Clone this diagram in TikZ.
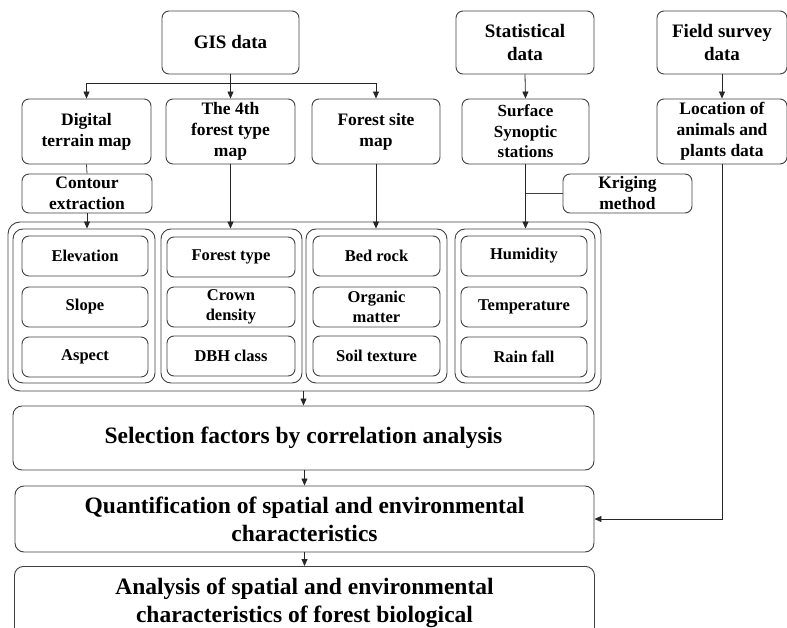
\documentclass[tikz,border=0pt]{standalone}
\usepackage{fontspec}
\setmainfont{Liberation Serif}
\usepackage{tikz}
\usetikzlibrary{arrows.meta}
\tikzset{
    box/.style={draw=black!75, line width=0.9pt, rounded corners=7pt, align=center, inner sep=0pt,
        font=\fontsize{17.5}{21}\selectfont\bfseries},
    topbox/.style={box, font=\fontsize{19}{23}\selectfont\bfseries, minimum height=63pt},
    midbox/.style={box, minimum height=65pt},
    smallbox/.style={box, minimum height=39pt, minimum width=130pt},
    factor/.style={box, font=\fontsize{16.5}{20}\selectfont\bfseries, minimum width=126pt, minimum height=40pt},
    group/.style={draw=black!75, line width=0.9pt, rounded corners=10pt, minimum width=141pt, minimum height=154pt},
    bigbox/.style={box, rounded corners=9pt, font=\fontsize{23.5}{28}\selectfont\bfseries},
    arr/.style={-{Triangle[length=7pt,width=6pt]}, line width=0.8pt, black!85}}

\begin{document}
\begin{tikzpicture}[x=1pt, y=-1pt]
    \useasboundingbox (0,0) rectangle (787,628);
    \clip (0,0) rectangle (787,628);

    % sources
    \node[topbox, minimum width=137pt] (gis) at (230.5,42.5) {GIS data};
    \node[topbox, minimum width=138pt] (stat) at (525,42.5) {Statistical\\data};
    \node[topbox, minimum width=130pt] (field) at (722,42.5) {Field survey\\data};

    \node[midbox, minimum width=129pt] (dtm) at (86.5,131.5) {Digital\\terrain map};
    \node[midbox, minimum width=129pt] (ftm) at (230.5,131.5) {The 4th\\forest type\\map};
    \node[midbox, minimum width=128pt] (fsm) at (376,131.5) {Forest site\\map};
    \node[midbox, minimum width=127pt, font=\fontsize{17}{20.5}\selectfont\bfseries] (sss) at (525.5,131.5) {Surface\\Synoptic\\stations};
    \node[midbox, minimum width=130pt] (loc) at (722,131.5) {Location of\\animals and\\plants data};

    \node[smallbox] (contour) at (87,193.5) {Contour\\extraction};
    \node[smallbox, minimum width=129pt] (kriging) at (627.5,193.5) {Kriging\\method};

    % factor groups
    \node[draw=black!75, line width=0.9pt, rounded corners=12pt, minimum width=593pt, minimum height=169pt] (outer) at (304.5,306.5) {};
    \node[group, minimum width=142pt] (g1) at (84,306) {};
    \node[group] (g2) at (231.5,306) {};
    \node[group] (g3) at (376.5,306) {};
    \node[group, minimum width=140pt] (g4) at (525,306) {};

    \node[factor] (elev) at (85,256) {Elevation};
    \node[factor] (slope) at (85,307) {Slope};
    \node[factor] (aspect) at (85,357) {Aspect};
    \node[factor, minimum width=128pt] (ftype) at (231,257) {Forest type};
    \node[factor, minimum width=128pt] (crown) at (231,307) {Crown\\density};
    \node[factor, minimum width=128pt] (dbh) at (231,356) {DBH class};
    \node[factor, minimum width=127pt] (bedrock) at (376.5,256) {Bed rock};
    \node[factor, minimum width=127pt] (organic) at (376.5,307) {Organic\\matter};
    \node[factor, minimum width=127pt] (soil) at (376.5,356) {Soil texture};
    \node[factor] (humid) at (524,256) {Humidity};
    \node[factor] (temp) at (524,307) {Temperature};
    \node[factor] (rain) at (524,357) {Rain fall};

    % analysis steps
    \node[bigbox, minimum width=581pt, minimum height=64pt] (sel) at (303.5,438) {Selection factors by correlation analysis};
    \node[bigbox, minimum width=579pt, minimum height=66pt] (quant) at (304.5,519) {Quantification of spatial and environmental\\characteristics};
    \node[bigbox, minimum width=580pt, minimum height=72pt, anchor=north] (anal) at (304.5,566) {Analysis of spatial and environmental\\characteristics of forest biological};

    % connectors
    \coordinate (split) at (230.5,83);
    \draw[line width=0.8pt, black!85] (gis.south) -- (split);
    \draw[arr] (split) -| (dtm.north);
    \draw[arr] (split) -- (ftm.north);
    \draw[arr] (split) -| (fsm.north);
    \draw[arr] (stat.south) -- (sss.north);
    \draw[arr] (field.south) -- (loc.north);

    \draw[line width=0.8pt, black!75] (dtm.south) -- (contour.north);
    \draw[arr] (contour.south) -- (g1.north -| contour.south);
    \draw[arr] (ftm.south) -- (g2.north -| ftm.south);
    \draw[arr] (fsm.south) -- (g3.north -| fsm.south);
    \draw[arr] (sss.south) -- (g4.north -| sss.south);
    \draw[line width=0.8pt, black!75] (kriging.west) -- (kriging.west -| sss.south);

    \draw[arr] (outer.south -| sel.north) -- (sel.north);
    \draw[arr] (sel.south -| quant.north) -- (quant.north);
    \draw[arr] (quant.south) -- (anal.north);
    \draw[arr] (loc.south) |- (quant.east);
\end{tikzpicture}
\end{document}
